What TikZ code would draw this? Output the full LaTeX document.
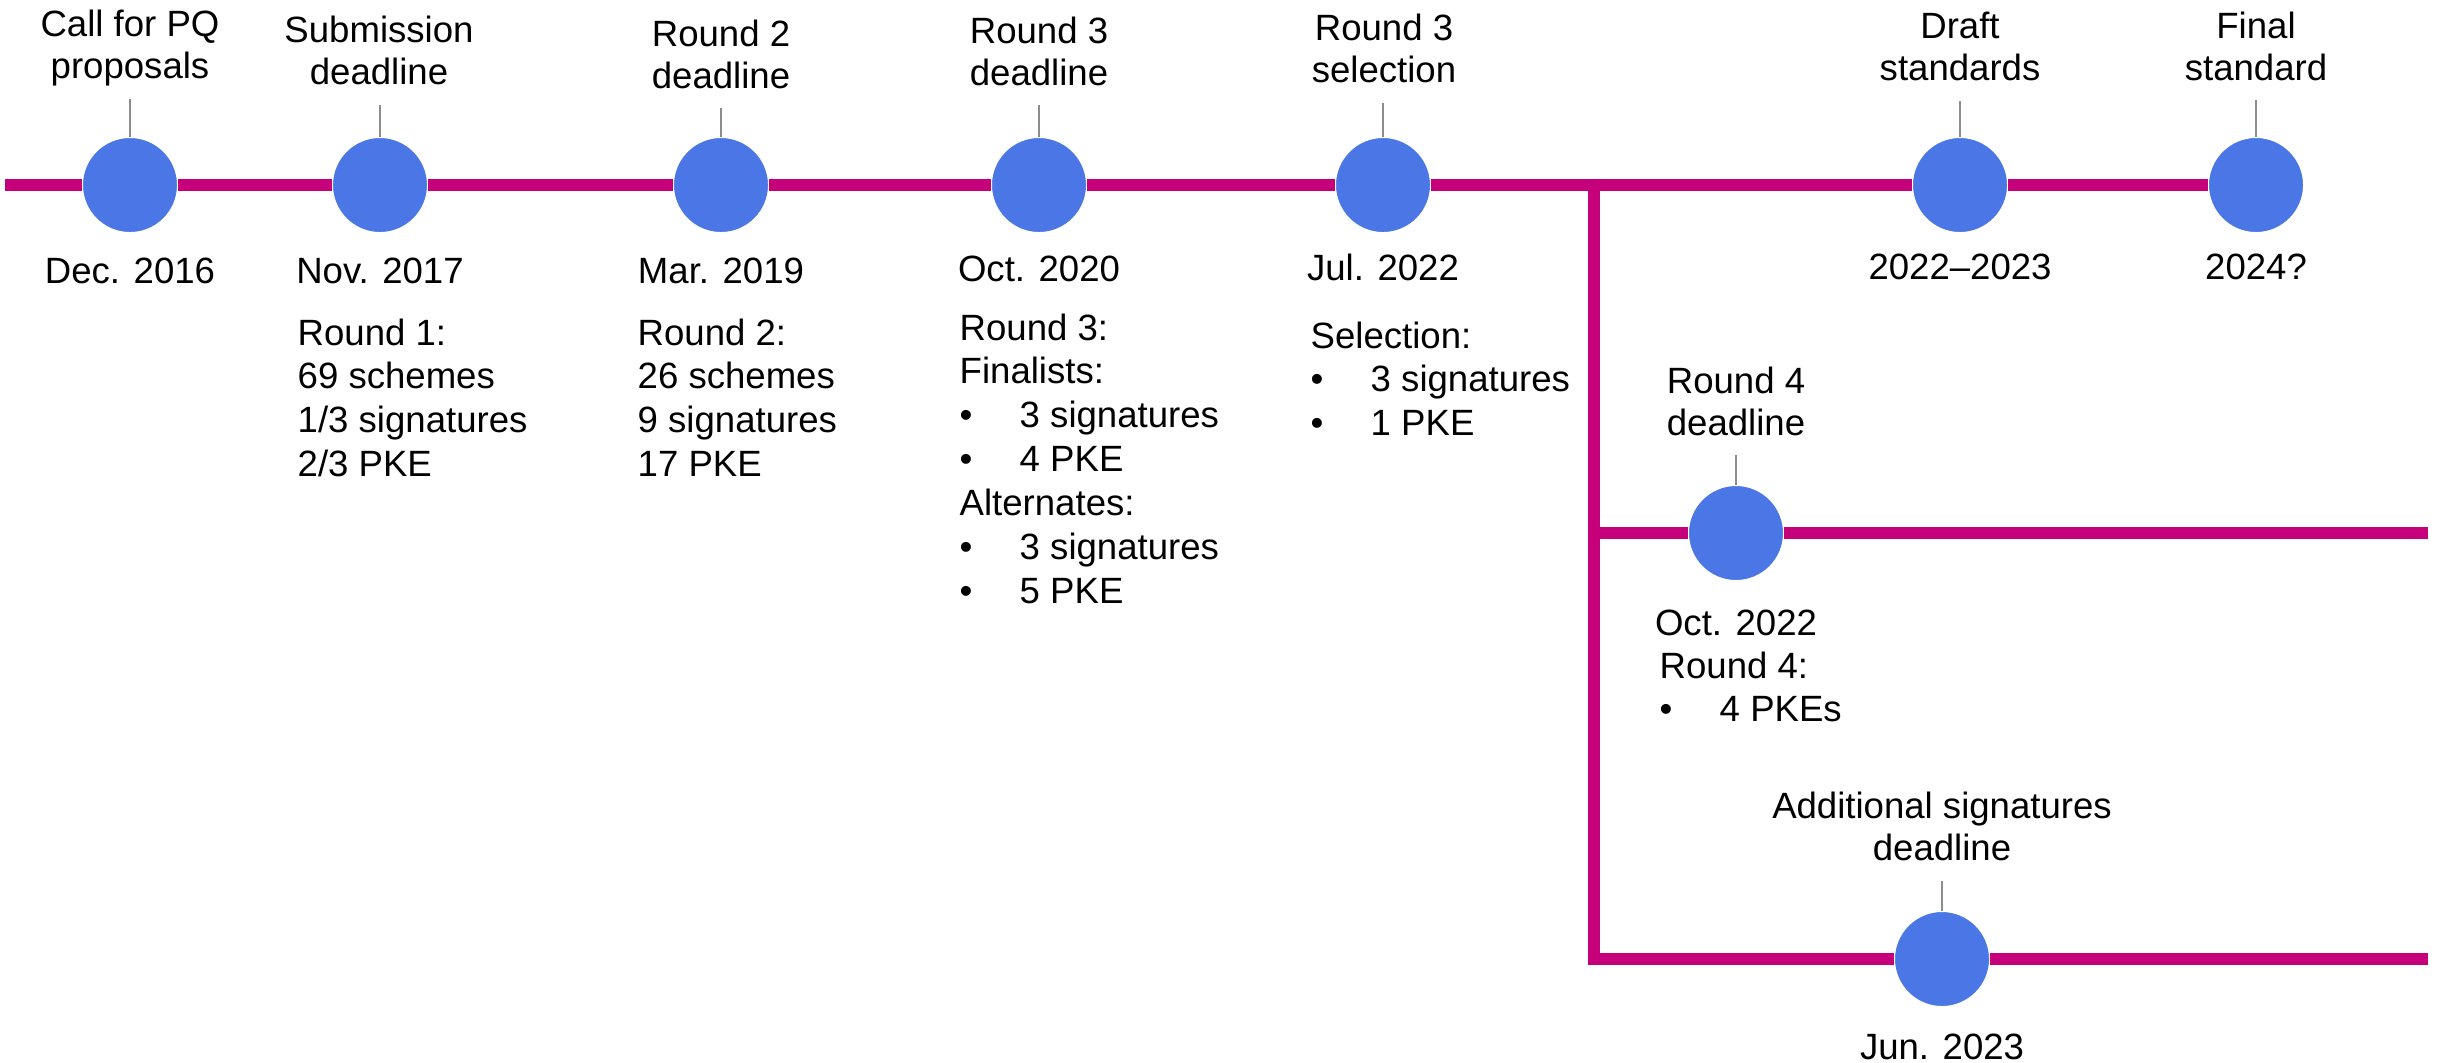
\documentclass[tikz,border=0pt]{standalone}
\usepackage{fontspec}
\setmainfont{Liberation Sans}
\definecolor{tlmagenta}{HTML}{C5007A}
\definecolor{tlblue}{HTML}{4A77E5}
\newcommand\tlbullet[1]{\makebox[0.6cm][l]{•}#1}
\begin{document}
\begin{tikzpicture}[x=0.01cm,y=-0.01cm,
  trackline/.style={draw=tlmagenta,line width=3.41pt},
  evdot/.style={circle,fill=tlblue,draw=white,line width=0.71pt,minimum size=0.965cm,inner sep=0pt,outer sep=0pt},
  tickline/.style={draw=black!45,line width=0.35pt},
  toplbl/.style={anchor=base,inner sep=0pt,font=\fontsize{10.4pt}{11.95pt}\selectfont},
  datelbl/.style={anchor=base,inner sep=0pt,font=\fontsize{10.4pt}{12.5pt}\selectfont},
  infolbl/.style={anchor=base west,inner sep=0pt,font=\fontsize{10.4pt}{12.5pt}\selectfont}]
\useasboundingbox (0,0) rectangle (2440,1062);

% milestones
\node[evdot] (c1) at (130,185) {};
\node[evdot] (c2) at (380,185) {};
\node[evdot] (c3) at (721,185) {};
\node[evdot] (c4) at (1039,185) {};
\node[evdot] (c5) at (1383,185) {};
\node[evdot] (c6) at (1960,185) {};
\node[evdot] (c7) at (2256,185) {};
\node[evdot] (c8) at (1736,533) {};
\node[evdot] (c9) at (1942,959) {};

% track ends and branch points
\coordinate (s0) at (5,185);
\coordinate (j1) at (1594,185);
\coordinate (j2) at (1588,533);
\coordinate (j3) at (1594,959);
\coordinate (e2) at (2428,533);
\coordinate (e3) at (2428,959);

\draw[trackline] (s0) -- (c1) -- (c2) -- (c3) -- (c4) -- (c5) -- (c6) -- (c7);
\draw[trackline,line join=miter] (j1) -- (j3) -- (c9) -- (e3);
\draw[trackline] (j2) -- (c8) -- (e2);

% leader ticks
\coordinate (k1) at (130,99);
\coordinate (k2) at (380,105);
\coordinate (k3) at (721,108);
\coordinate (k4) at (1039,105);
\coordinate (k5) at (1383,103);
\coordinate (k6) at (1960,101);
\coordinate (k7) at (2256,100);
\coordinate (k8) at (1736,455);
\coordinate (k9) at (1942,881);
\foreach \i in {1,...,9} \draw[tickline] (k\i) -- (c\i);

% milestone titles
\node[toplbl] (h1) at (130,36) {\begin{tabular}[t]{@{}c@{}}Call for PQ\\proposals\end{tabular}};
\node[toplbl] (h2) at (379,42) {\begin{tabular}[t]{@{}c@{}}Submission\\deadline\end{tabular}};
\node[toplbl] (h3) at (721,46) {\begin{tabular}[t]{@{}c@{}}Round 2\\deadline\end{tabular}};
\node[toplbl] (h4) at (1039,43) {\begin{tabular}[t]{@{}c@{}}Round 3\\deadline\end{tabular}};
\node[toplbl] (h5) at (1384,40) {\begin{tabular}[t]{@{}c@{}}Round 3\\selection\end{tabular}};
\node[toplbl] (h6) at (1960,38) {\begin{tabular}[t]{@{}c@{}}Draft\\standards\end{tabular}};
\node[toplbl] (h7) at (2256,38) {\begin{tabular}[t]{@{}c@{}}Final\\standard\end{tabular}};
\node[toplbl] (h8) at (1736,393) {\begin{tabular}[t]{@{}c@{}}Round 4\\deadline\end{tabular}};
\node[toplbl] (h9) at (1942,818) {\begin{tabular}[t]{@{}c@{}}Additional signatures\\deadline\end{tabular}};

% dates
\node[datelbl] (d1) at (130,283) {Dec. 2016};
\node[datelbl] (d2) at (380,283) {Nov. 2017};
\node[datelbl] (d3) at (721,283) {Mar. 2019};
\node[datelbl] (d4) at (1039,281) {Oct. 2020};
\node[datelbl] (d5) at (1383,280) {Jul. 2022};
\node[datelbl] (d6) at (1960,279) {2022–2023};
\node[datelbl] (d7) at (2256,279) {2024?};
\node[datelbl] (d8) at (1736,635) {Oct. 2022};
\node[datelbl] (d9) at (1942,1059) {Jun. 2023};

% round details
\node[infolbl] (b2) at (297,345) {\begin{tabular}[t]{@{}l@{}}Round 1:\\69 schemes\\1/3 signatures\\2/3 PKE\end{tabular}};
\node[infolbl] (b3) at (637,345) {\begin{tabular}[t]{@{}l@{}}Round 2:\\26 schemes\\9 signatures\\17 PKE\end{tabular}};
\node[infolbl] (b4) at (959,340) {\begin{tabular}[t]{@{}l@{}}Round 3:\\Finalists:\\\tlbullet{3 signatures}\\\tlbullet{4 PKE}\\Alternates:\\\tlbullet{3 signatures}\\\tlbullet{5 PKE}\end{tabular}};
\node[infolbl] (b5) at (1310,348) {\begin{tabular}[t]{@{}l@{}}Selection:\\\tlbullet{3 signatures}\\\tlbullet{1 PKE}\end{tabular}};
\node[infolbl] (b8) at (1659,678) {\begin{tabular}[t]{@{}l@{}}Round 4:\\\tlbullet{4 PKEs}\end{tabular}};
\end{tikzpicture}
\end{document}
